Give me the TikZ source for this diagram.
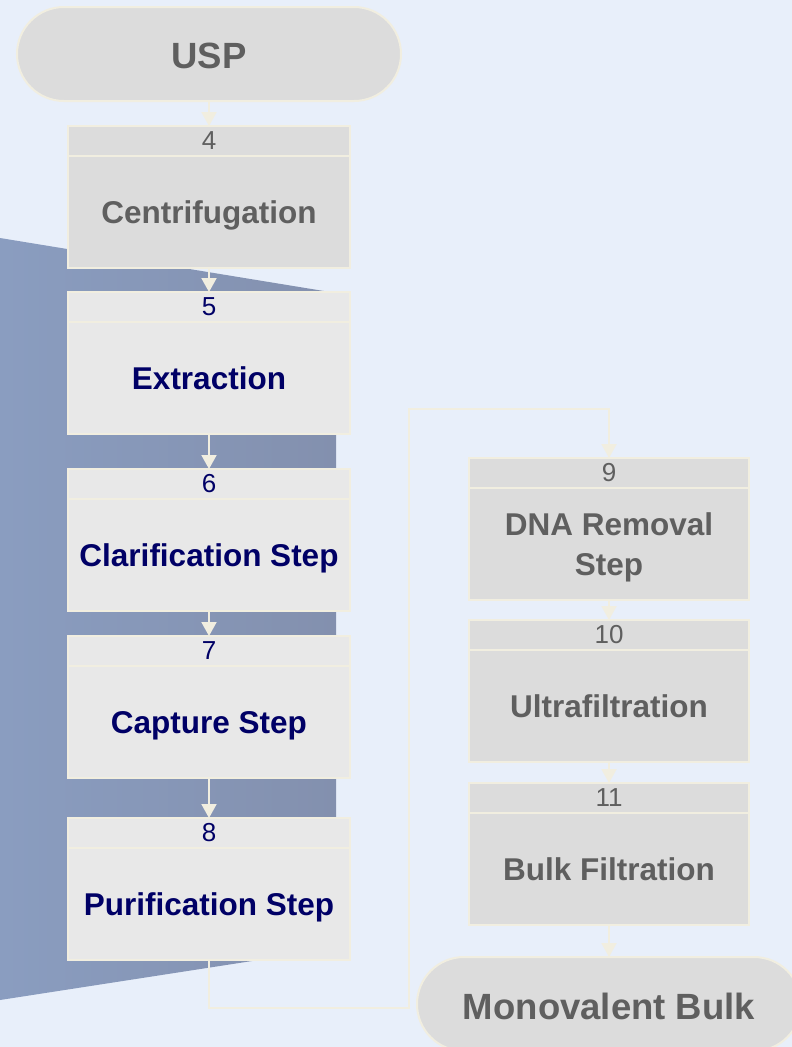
\documentclass[tikz,border=0pt]{standalone}
\usepackage{fontspec}
\setmainfont{Liberation Sans}
\usetikzlibrary{arrows.meta,shapes.misc}
\definecolor{bgcol}{RGB}{232,239,250}
\definecolor{edgecol}{RGB}{241,238,224}
\definecolor{greyfill}{RGB}{220,220,220}
\definecolor{lightfill}{RGB}{232,232,232}
\definecolor{greytext}{RGB}{95,95,95}
\definecolor{navytext}{RGB}{0,0,102}
\definecolor{blueL}{RGB}{138,157,192}
\definecolor{blueR}{RGB}{131,144,174}
\tikzset{
  hdrbox/.style={draw=edgecol, line width=2pt, rectangle, minimum height=30pt, inner sep=0pt, outer sep=0pt,
    font=\fontsize{26}{30}\selectfont},
  bodybox/.style={draw=edgecol, line width=2pt, rectangle, minimum height=112pt, inner sep=0pt, outer sep=0pt,
    align=center, font=\fontsize{31.5}{40}\selectfont\bfseries},
  oneline/.style={text height=22.6pt, text depth=0pt},
  leftcol/.style={minimum width=282pt},
  rightcol/.style={minimum width=280pt},
  greybox/.style={fill=greyfill, text=greytext},
  navybox/.style={fill=lightfill, text=navytext},
  terminal/.style={draw=edgecol, line width=2pt, rounded rectangle, fill=greyfill, text=greytext,
    minimum width=384pt, minimum height=94pt, inner sep=0pt, outer sep=0pt,
    font=\fontsize{36.5}{42}\selectfont\bfseries},
  conn/.style={draw=edgecol, line width=2pt, -{Triangle[length=14pt,width=15pt]}}
}
\begin{document}
\begin{tikzpicture}[x=1pt,y=-1pt]
\fill[bgcol] (0,0) rectangle (792,1047);
\useasboundingbox (0,0) rectangle (792,1047);
% blue highlight band
\shade[left color=blueL, right color=blueR] (0,238) -- (336,293) -- (336,948) -- (0,1000) -- cycle;

% terminals
\node[terminal, text height=29pt, text depth=0pt] (usp) at (209,54) {USP};
\node[terminal, text height=30pt, text depth=0pt] (mono) at (609,1004) {Monovalent Bulk};

% left column
\node[hdrbox, leftcol, greybox, anchor=north] (h4) at (209,126) {4};
\node[bodybox, oneline, leftcol, greybox, anchor=north] (b4) at (h4.south) {Centrifugation};
\node[hdrbox, leftcol, navybox, anchor=north] (h5) at (209,292) {5};
\node[bodybox, oneline, leftcol, navybox, anchor=north] (b5) at (h5.south) {Extraction};
\node[hdrbox, leftcol, navybox, anchor=north] (h6) at (209,469) {6};
\node[bodybox, oneline, leftcol, navybox, anchor=north] (b6) at (h6.south) {Clarification Step};
\node[hdrbox, leftcol, navybox, anchor=north] (h7) at (209,636) {7};
\node[bodybox, oneline, leftcol, navybox, anchor=north] (b7) at (h7.south) {Capture Step};
\node[hdrbox, leftcol, navybox, anchor=north] (h8) at (209,818) {8};
\node[bodybox, oneline, leftcol, navybox, anchor=north] (b8) at (h8.south) {Purification Step};

% right column
\node[hdrbox, rightcol, greybox, anchor=north] (h9) at (609,458) {9};
\node[bodybox, rightcol, greybox, anchor=north] (b9) at (h9.south) {\rule{0pt}{29pt}DNA Removal\\Step};
\node[hdrbox, rightcol, greybox, anchor=north] (h10) at (609,620) {10};
\node[bodybox, oneline, rightcol, greybox, anchor=north] (b10) at (h10.south) {Ultrafiltration};
\node[hdrbox, rightcol, greybox, anchor=north] (h11) at (609,783) {11};
\node[bodybox, oneline, rightcol, greybox, anchor=north] (b11) at (h11.south) {Bulk Filtration};

% connectors
\draw[conn] (usp.south) -- (h4.north);
\draw[conn] (b4.south) -- (h5.north);
\draw[conn] (b5.south) -- (h6.north);
\draw[conn] (b6.south) -- (h7.north);
\draw[conn] (b7.south) -- (h8.north);
\coordinate (t1) at (409,1008);
\coordinate (t2) at (409,409);
\draw[conn] (b8.south) -- (b8.south |- t1) -- (t1) -- (t2) -- (h9.north |- t2) -- (h9.north);
\draw[conn] (b9.south) -- (h10.north);
\draw[conn] (b10.south) -- (h11.north);
\draw[conn] (b11.south) -- (mono.north);
\end{tikzpicture}
\end{document}
